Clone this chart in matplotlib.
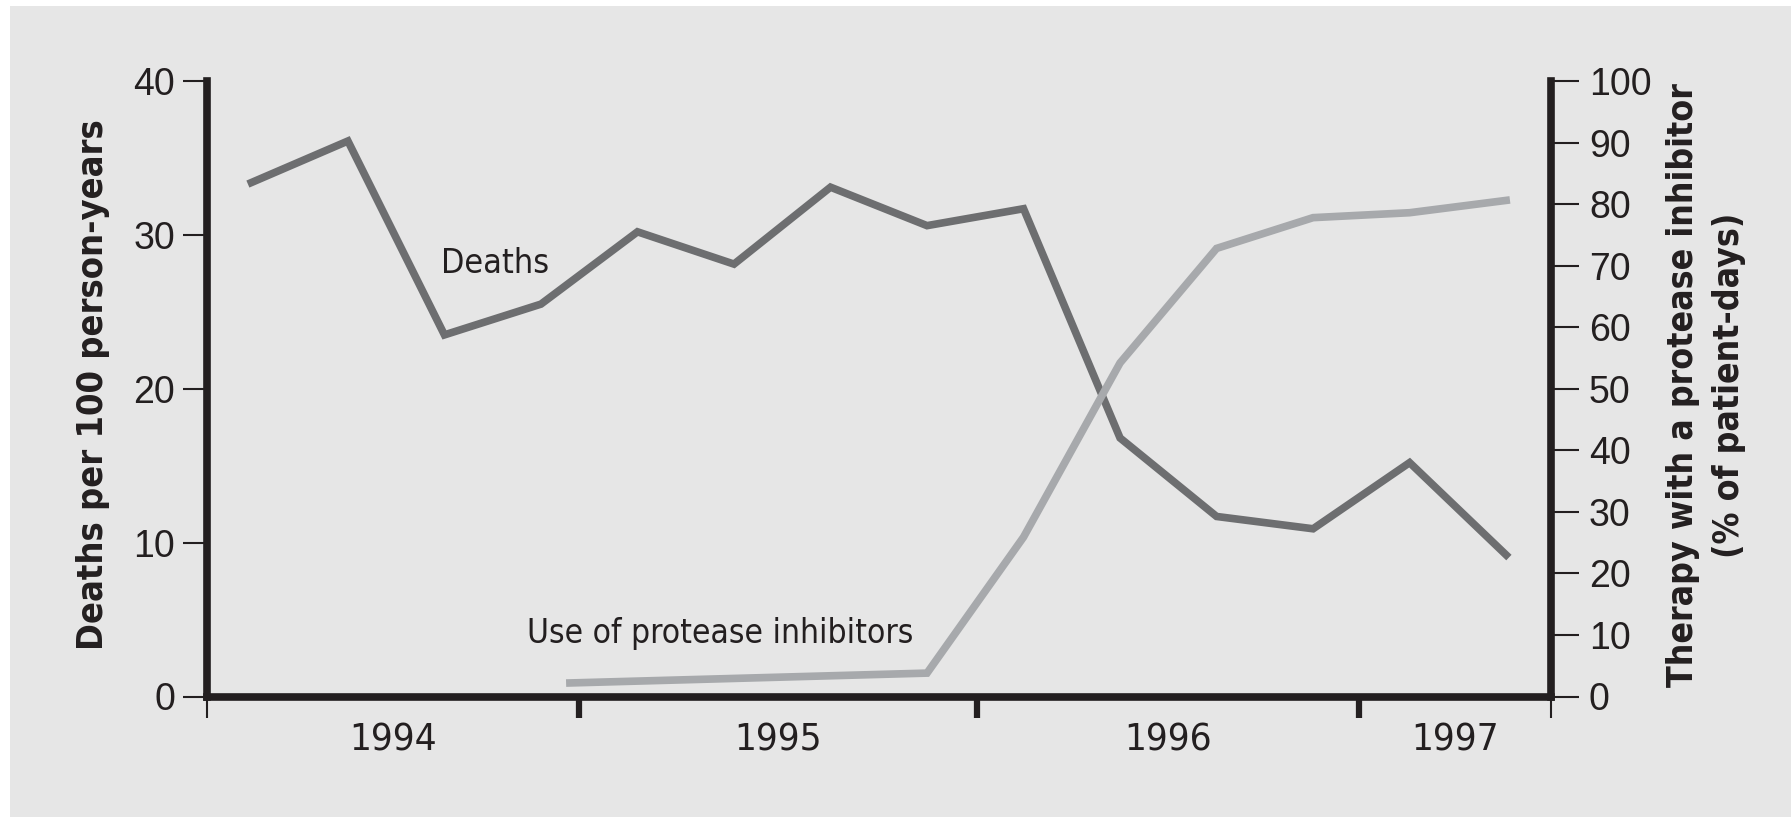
import matplotlib
matplotlib.use("Agg")
import matplotlib.pyplot as plt
from matplotlib import font_manager as fm
from matplotlib.patches import Rectangle

# quarter index 0 = first quarter of 1994
quarters = list(range(14))
deaths = [33.4, 36.1, 23.5, 25.5, 30.2, 28.1, 33.1, 30.6, 31.7, 16.8, 11.7, 10.9, 15.2, 9.2]

pi_x = [3.3, 7, 8, 9, 10, 11, 12, 13]
pi_use = [2.2, 3.8, 25.9, 54.2, 72.8, 77.8, 78.6, 80.6]

years = ["1994", "1995", "1996", "1997"]
year_edges = [-0.46, 3.39, 7.52, 11.48, 13.47]

INK = "#231f20"
C_DEATH, C_PI = "#6d6e70", "#a7a9ac"
REG = ["Liberation Sans", "DejaVu Sans"]


def narrow_font():
    """Look for a condensed sans; fall back to plain Liberation Sans."""
    for fam, stretch in (("Liberation Sans Narrow", "normal"), ("DejaVu Sans", "condensed"),
                         ("Roboto Condensed", "normal"), ("Roboto", "condensed"),
                         ("Open Sans", "condensed"), ("Noto Sans", "condensed")):
        try:
            path = fm.findfont(fm.FontProperties(family=fam, stretch=stretch),
                               fallback_to_default=False)
        except Exception:
            continue
        low = path.lower()
        if "narrow" in low or "condensed" in low or "cond" in low:
            return fam, stretch
    return "Liberation Sans", "normal"


NFAM, NSTRETCH = narrow_font()


def fit_width(txt, target_px, renderer, vertical=False):
    bb = txt.get_window_extent(renderer)
    size = bb.height if vertical else bb.width
    txt.set_fontsize(txt.get_fontsize() * target_px / size)


fig = plt.figure(figsize=(17.91, 8.17), dpi=100, facecolor="white")
fig.patches.append(Rectangle((10 / 1791, 0), 1, 811 / 817, transform=fig.transFigure,
                             facecolor="#e6e6e6", edgecolor="none", zorder=-10))

ax = fig.add_axes([207 / 1791, 120.5 / 817, 1344.5 / 1791, 615.5 / 817])
ax.set_facecolor("none")
ax2 = ax.twinx()
ax2.set_facecolor("none")

ax.plot(quarters, deaths, color=C_DEATH, lw=5.5, solid_joinstyle="miter", zorder=3)
ax2.plot(pi_x, pi_use, color=C_PI, lw=5.5, solid_joinstyle="miter", zorder=3)

ax.set_xlim(year_edges[0], year_edges[-1])
ax.set_ylim(0, 40)
ax2.set_ylim(0, 100)

for s in ("top", "right"):
    ax.spines[s].set_visible(False)
for s in ("top", "left", "bottom"):
    ax2.spines[s].set_visible(False)
for sp in (ax.spines["left"], ax.spines["bottom"], ax2.spines["right"]):
    sp.set_linewidth(5.5)
    sp.set_color(INK)
ax.spines["bottom"].set_zorder(4)

# y axes
ax.set_yticks([0, 10, 20, 30, 40])
ax.tick_params(axis="y", direction="out", length=17, width=1.5, color=INK, pad=6,
               labelsize=27, labelcolor=INK)
ax2.set_yticks(range(0, 101, 10))
ax2.tick_params(axis="y", direction="out", length=20, width=1.5, color=INK, pad=7,
                labelsize=27, labelcolor=INK)
for lab in ax.get_yticklabels() + ax2.get_yticklabels():
    lab.set_family(REG)

# x axis: boundaries as ticks, year names centred between them
ax.set_xticks(year_edges[1:-1])
ax.set_xticklabels([])
ax.tick_params(axis="x", which="major", direction="out", length=15, width=4.5, color=INK)
centers = [(a + b) / 2 for a, b in zip(year_edges[:-1], year_edges[1:])]
ax.set_xticks(centers, minor=True)
ax.set_xticklabels(years, minor=True, family=NFAM, stretch=NSTRETCH, fontsize=32, color=INK)
ax.tick_params(axis="x", which="minor", length=0, pad=19)

ends = ax.secondary_xaxis("bottom")
ends.set_xticks([year_edges[0], year_edges[-1]])
ends.set_xticklabels([])
ends.tick_params(direction="out", length=15, width=1.5, color=INK)
for sp in ends.spines.values():
    sp.set_visible(False)

# axis titles
ylab_l = fig.text(93 / 1791, 1 - 385 / 817, "Deaths per 100 person-years", rotation=90,
                  ha="center", va="center", family=NFAM, stretch=NSTRETCH,
                  fontweight="bold", fontsize=31, color=INK)
ylab_r1 = fig.text(1683 / 1791, 1 - 385 / 817, "Therapy with a protease inhibitor",
                   rotation=90, ha="center", va="center", family=NFAM, stretch=NSTRETCH,
                   fontweight="bold", fontsize=31, color=INK)
ylab_r2 = fig.text(1729 / 1791, 1 - 385 / 817, "(% of patient-days)",
                   rotation=90, ha="center", va="center", family=NFAM, stretch=NSTRETCH,
                   fontweight="bold", fontsize=31, color=INK)

# series labels
lab_d = ax.text(1.96, 27.5, "Deaths", family=NFAM, stretch=NSTRETCH, fontsize=28,
                color=INK, va="baseline")
lab_p = ax.text(2.86, 3.5, "Use of protease inhibitors", family=NFAM, stretch=NSTRETCH,
                fontsize=28, color=INK, va="baseline")

# match text lengths measured on the original
r = fig.canvas.get_renderer()
fit_width(ylab_l, 530, r, vertical=True)
fit_width(ylab_r1, 605, r, vertical=True)
ylab_r2.set_fontsize(ylab_r1.get_fontsize())
fit_width(lab_d, 108, r)
fit_width(lab_p, 385, r)
yl = ax.get_xticklabels(minor=True)
w0 = yl[0].get_window_extent(r).width
for t in yl:
    t.set_fontsize(t.get_fontsize() * 88 / w0)

fig.savefig("out.png", dpi=100, facecolor=fig.get_facecolor())
